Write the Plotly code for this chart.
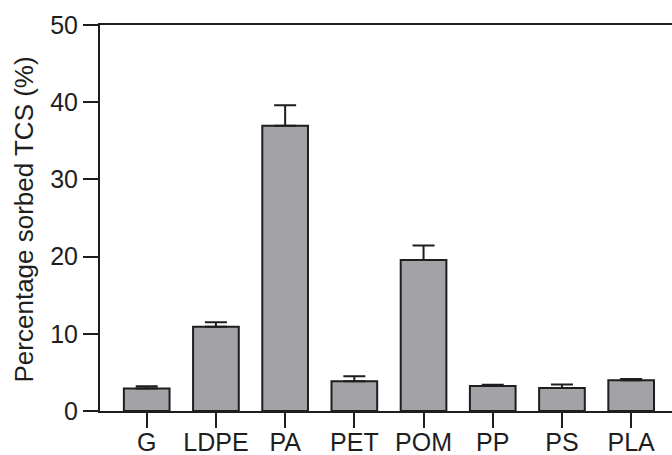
import plotly.graph_objects as go

categories = ["G", "LDPE", "PA", "PET", "POM", "PP", "PS", "PLA"]
values = [2.9, 10.9, 36.95, 3.85, 19.55, 3.24, 2.98, 3.98]
errors = [0.3, 0.6, 2.65, 0.65, 1.9, 0.15, 0.44, 0.17]
y_ticks = [0, 10, 20, 30, 40, 50]
y_title = "Percentage sorbed TCS (%)"

FONT = "Liberation Sans, Arial, Helvetica, sans-serif"
INK = "#1e1e1e"

fig = go.Figure()
fig.add_trace(go.Bar(
    x=list(range(len(categories))),
    y=values,
    marker=dict(color="#a3a3a7", line=dict(color=INK, width=2)),
    error_y=dict(type="data", array=errors, symmetric=False, arrayminus=[0] * len(errors),
                 color=INK, thickness=2, width=11),
    width=0.66,
    hoverinfo="skip",
))

fig.update_layout(
    width=672, height=455,
    margin=dict(l=100, r=0, t=25, b=44, autoexpand=False),
    paper_bgcolor="white", plot_bgcolor="white",
    showlegend=False,
    font=dict(family=FONT, color=INK),
    xaxis=dict(
        range=[-0.675, 7.59],
        tickmode="array", tickvals=list(range(len(categories))), ticktext=categories,
        showline=True, linecolor=INK, linewidth=2, mirror=True,
        ticks="outside", ticklen=15, tickwidth=2, tickcolor=INK,
        tickfont=dict(size=25, family=FONT, color=INK),
        ticklabelstandoff=-7,
        showgrid=False, zeroline=False, automargin=False,
    ),
    yaxis=dict(
        range=[0, 50],
        tickmode="array", tickvals=y_ticks,
        showline=True, linecolor=INK, linewidth=2,
        ticks="outside", ticklen=15, tickwidth=2, tickcolor=INK,
        tickfont=dict(size=25, family=FONT, color=INK),
        showgrid=False, zeroline=False, automargin=False,
    ),
    annotations=[dict(
        text=y_title, textangle=-90,
        xref="paper", yref="paper", x=-0.133, y=0.496,
        xanchor="center", yanchor="middle", showarrow=False,
        font=dict(size=26, family=FONT, color=INK),
    )],
)

fig.write_html(
    "out.html",
    config={"displayModeBar": False, "staticPlot": True},
    post_script="document.body.style.margin='0';document.body.style.overflow='hidden';",
)
